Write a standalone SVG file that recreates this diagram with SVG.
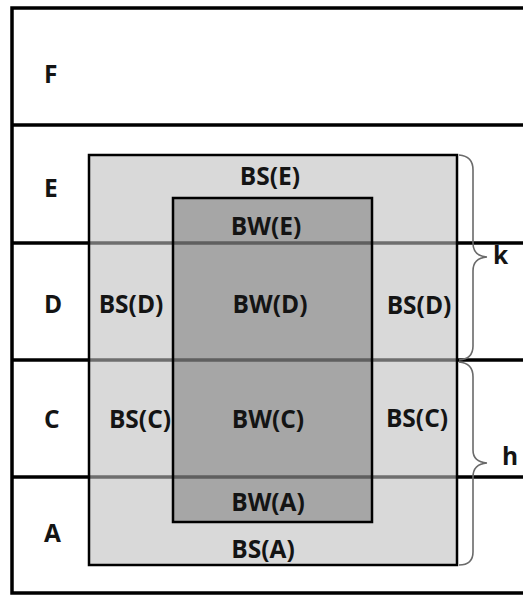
<svg xmlns="http://www.w3.org/2000/svg" width="523" height="595" viewBox="0 0 523 595">
  <style>
    .t { font-family: "Open Sans", "Liberation Sans", sans-serif; font-weight: 700; font-size: 24.5px; fill: #141414; }
    .m { text-anchor: middle; }
    .line { stroke: #000; stroke-width: 3.5; fill: none; }
    .brace { stroke: #6a6a6a; stroke-width: 1.6; fill: none; }
  </style>
  <rect width="523" height="595" fill="#fff"/>
  <g id="grid">
    <rect class="line" x="12" y="8" width="530" height="585"/>
    <line class="line" x1="12" y1="125" x2="523" y2="125"/>
    <line class="line" x1="12" y1="243" x2="523" y2="243"/>
    <line class="line" x1="12" y1="360" x2="523" y2="360"/>
    <line class="line" x1="12" y1="477" x2="523" y2="477"/>
  </g>
  <g id="row-labels">
    <text class="t" x="44" y="83">F</text>
    <text class="t" x="44" y="197">E</text>
    <text class="t" x="44" y="313">D</text>
    <text class="t" x="44" y="428">C</text>
    <text class="t" x="44" y="542">A</text>
  </g>
  <g id="BS">
    <rect x="89" y="155" width="368" height="410" fill="rgb(190,190,190)" fill-opacity="0.58" stroke="#000" stroke-width="2.5"/>
    <text class="t m" x="270" y="185">BS(E)</text>
    <text class="t m" x="131" y="313">BS(D)</text>
    <text class="t m" x="419" y="314">BS(D)</text>
    <text class="t m" x="140" y="428">BS(C)</text>
    <text class="t m" x="417" y="427">BS(C)</text>
    <text class="t m" x="263" y="558">BS(A)</text>
  </g>
  <g id="BW">
    <rect x="173" y="198" width="199" height="324" fill="rgb(65,65,65)" fill-opacity="0.336" stroke="#000" stroke-width="2.5"/>
    <text class="t m" x="266" y="235">BW(E)</text>
    <text class="t m" x="270" y="313">BW(D)</text>
    <text class="t m" x="268" y="428">BW(C)</text>
    <text class="t m" x="268" y="511">BW(A)</text>
  </g>
  <g id="connectors">
    <path class="brace" d="M459,155 Q473,156 473,170 L473,243 Q473,256 487,257 Q473,258 473,271 L473,346 Q473,359 459,360"/>
    <path class="brace" d="M459,362 Q473,363 473,377 L473,450 Q473,462 487,463 Q473,464 473,477 L473,552 Q473,565 459,565"/>
  </g>
  <g id="brace-labels">
    <text class="t" x="493" y="264">k</text>
    <text class="t" x="502" y="465">h</text>
  </g>
</svg>
